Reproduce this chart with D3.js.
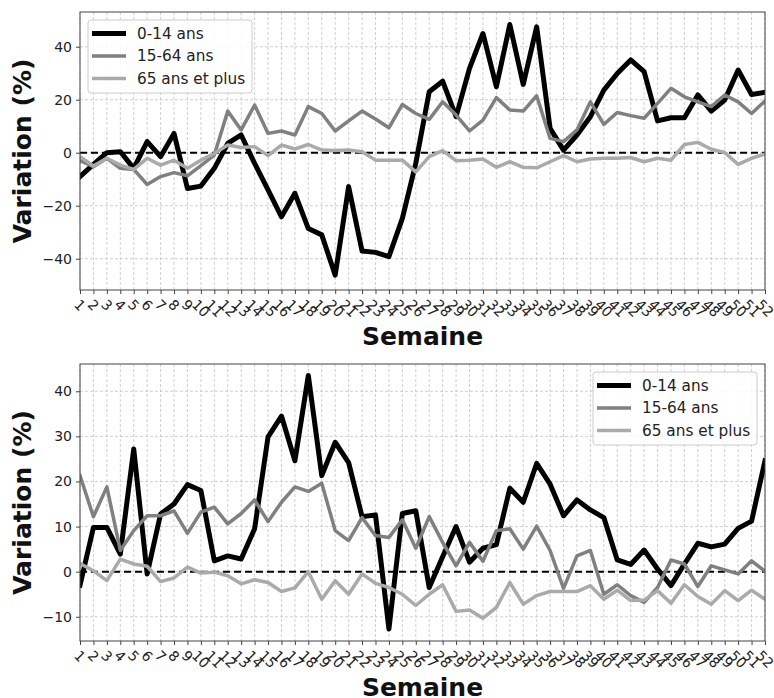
<!DOCTYPE html>
<html><head><meta charset="utf-8">
<script src="https://cdn.jsdelivr.net/npm/d3@7"></script>
<style>body{margin:0;background:#fff}svg{display:block}text{font-family:"DejaVu Sans",sans-serif}</style>
</head><body>
<svg id="c" width="774" height="698"></svg>
<script>
const weeks = d3.range(1, 53);
const seriesNames = ["0-14 ans", "15-64 ans", "65 ans et plus"];
const top014 = [-9,-4.4,0,0.4,-5.9,4.2,-1.5,7.3,-13.5,-12.6,-5.9,3.5,6.7,-4,-14,-24.2,-15.3,-28.6,-31,-46.2,-12.8,-37.1,-37.6,-39.2,-24.8,-4,23,27,13.6,31.8,45,24.9,48.4,25.8,47.5,9.2,1,6.7,13.6,23.6,29.9,35,30.6,12,13.2,13.2,21.8,15.7,19.9,31.2,22,22.8];
const top1564 = [-3,-5.3,-2.1,-5.9,-6.3,-12,-9,-7.5,-8.7,-4.9,-0.9,15.7,8.6,18,7.3,8.2,6.7,17.4,14.8,8.2,12,15.7,12.7,9.4,18.2,14.8,12.6,19.2,14.2,8.2,12.3,20.8,16.1,15.7,21.5,5.4,4.2,8.6,19.2,10.7,15.2,14,13,18.6,24.3,21.1,19.2,17.4,21.8,19.2,14.8,19.5];
const top65 = [-1.5,-5,-2.1,-4.7,-6.3,-2.1,-4.7,-2.8,-5.9,-2.8,-0.3,2.9,2,2.3,-1.1,2.9,1.4,3.1,1,0.8,1,0.4,-2.8,-2.8,-2.8,-7.2,-1.5,0.8,-3,-2.8,-2.4,-5.5,-3.4,-5.5,-5.7,-3.4,-1.1,-3.4,-2.4,-2.1,-2.1,-1.8,-3.4,-2.1,-2.8,3.1,3.9,1.3,0.1,-4.4,-2.1,-0.5];
const bot014 = [-3,9.8,9.8,3.9,27.2,-0.5,12.8,15,19.3,18,2.4,3.5,2.8,9.5,29.9,34.5,24.6,43.5,21.3,28.7,24.2,12.2,12.6,-12.7,12.9,13.5,-3.5,3.3,10,2.1,5.2,6,18.5,15.4,24,19.4,12.4,15.9,13.7,12,2.6,1.6,4.8,0.6,-3.1,1.7,6.3,5.5,6.1,9.6,11.2,24.6];
const bot1564 = [21.3,12.2,18.8,4.7,9.1,12.4,12.4,13.5,8.5,13.2,14.3,10.6,12.9,15.9,11.1,15.4,18.8,17.8,19.6,9.1,6.9,12,8,7.6,11.5,5.2,12.2,6.5,1.3,6.5,2.3,9.1,9.5,5,10.1,4.7,-3.7,3.5,4.7,-5,-2.9,-5.3,-6.8,-3.5,2.6,1.7,-3.3,1.3,0.4,-0.5,2.4,0.1];
const bot65 = [1.8,0.2,-2,2.8,1.7,1.2,-2.2,-1.4,1,-0.3,-0.1,-0.9,-2.7,-1.8,-2.4,-4.4,-3.6,0,-6.1,-2,-5,-0.5,-2.6,-3.5,-5,-7.5,-5,-2.9,-8.8,-8.5,-10.3,-7.9,-2.4,-7.2,-5.3,-4.4,-4.4,-4.4,-3.1,-6.1,-4.1,-6.4,-6.3,-4.2,-7,-2.9,-5.5,-7.2,-4.2,-6.4,-4.1,-6.1];
const topYTicks = [-40,-20,0,20,40];
const botYTicks = [-10,0,10,20,30,40];

const colors = ["#000000", "#808080", "#aaaaaa"];
const widths = [5, 3.5, 3.5];
const svg = d3.select("#c");

function panel(id, box, yDomain, yTicks, series, legendPos) {
  const x = d3.scaleLinear().domain([1, 52]).range([box.l, box.r]);
  const y = d3.scaleLinear().domain(yDomain).range([box.b, box.t]);
  const g = svg.append("g");
  g.append("clipPath").attr("id", "clip" + id).append("rect")
    .attr("x", box.l).attr("y", box.t).attr("width", box.r - box.l).attr("height", box.b - box.t);
  // grid
  g.append("g").selectAll("line").data(weeks).join("line")
    .attr("x1", d => x(d)).attr("x2", d => x(d)).attr("y1", box.t).attr("y2", box.b)
    .attr("stroke", "#c4c4c4").attr("stroke-width", 0.8).attr("stroke-dasharray", "3,2");
  g.append("g").selectAll("line").data(yTicks).join("line")
    .attr("x1", box.l).attr("x2", box.r).attr("y1", d => y(d)).attr("y2", d => y(d))
    .attr("stroke", "#c4c4c4").attr("stroke-width", 0.8).attr("stroke-dasharray", "3,2");
  // zero line
  g.append("line").attr("x1", box.l).attr("x2", box.r).attr("y1", y(0)).attr("y2", y(0))
    .attr("stroke", "#000").attr("stroke-width", 2).attr("stroke-dasharray", "7,4");
  // lines
  const line = d3.line().x((d, i) => x(weeks[i])).y(d => y(d));
  const lg = g.append("g").attr("clip-path", `url(#clip${id})`);
  series.forEach((s, k) => {
    lg.append("path").datum(s).attr("d", line).attr("fill", "none")
      .attr("stroke", colors[k]).attr("stroke-width", widths[k])
      .attr("stroke-linejoin", "round").attr("stroke-linecap", "square");
  });
  // frame
  g.append("rect").attr("x", box.l).attr("y", box.t).attr("width", box.r - box.l).attr("height", box.b - box.t)
    .attr("fill", "none").attr("stroke", "#444").attr("stroke-width", 1);
  // y axis
  const ya = d3.axisLeft(y).tickValues(yTicks).tickSize(4).tickPadding(4)
    .tickFormat(d => (d < 0 ? "\u2212" + Math.abs(d) : d));
  const yg = g.append("g").attr("transform", `translate(${box.l},0)`).call(ya);
  yg.select(".domain").remove();
  yg.selectAll("line").attr("stroke", "#444");
  yg.selectAll("text").attr("font-size", 14).attr("fill", "#222").style("font-family", "DejaVu Sans");
  // x axis
  const xa = d3.axisBottom(x).tickValues(weeks).tickSize(4).tickFormat("");
  const xg = g.append("g").attr("transform", `translate(0,${box.b})`).call(xa);
  xg.select(".domain").remove();
  xg.selectAll("line").attr("stroke", "#444");
  const fs = 14;
  g.append("g").selectAll("text").data(weeks).join("text")
    .each(function(d) {
      const w = String(d).length * 0.636 * fs;
      const h = 1.0 * fs;
      const bb = (w + h) * Math.SQRT1_2;
      const cx = x(d), cy = box.b + 7 + bb / 2;
      d3.select(this).attr("x", cx).attr("y", cy)
        .attr("transform", `rotate(45,${cx},${cy})`);
    })
    .attr("text-anchor", "middle").attr("dominant-baseline", "central")
    .attr("font-size", fs).attr("fill", "#222").text(d => d);
  // axis titles
  g.append("text").attr("x", (box.l + box.r) / 2).attr("y", box.b + 55)
    .attr("text-anchor", "middle").attr("font-size", 25).attr("font-weight", "bold").attr("fill", "#111")
    .text("Semaine");
  const ycen = (box.t + box.b) / 2;
  g.append("text").attr("transform", `translate(31,${ycen}) rotate(-90)`)
    .attr("text-anchor", "middle").attr("font-size", 25).attr("font-weight", "bold").attr("fill", "#111")
    .text("Variation (%)");
  // legend
  const L = legendPos;
  const leg = g.append("g");
  leg.append("rect").attr("x", L.x).attr("y", L.y).attr("width", 164).attr("height", 73)
    .attr("rx", 3).attr("fill", "#fff").attr("fill-opacity", 0.85).attr("stroke", "#cccccc").attr("stroke-width", 1);
  seriesNames.forEach((n, k) => {
    const cy = L.y + 13.5 + k * 22.5;
    leg.append("line").attr("x1", L.x + 4).attr("x2", L.x + 38).attr("y1", cy).attr("y2", cy)
      .attr("stroke", colors[k]).attr("stroke-width", widths[k]);
    leg.append("text").attr("x", L.x + 49).attr("y", cy).attr("dominant-baseline", "central")
      .attr("font-size", 15.3).attr("fill", "#222").text(n);
  });
}

panel("a", {l: 80, r: 765, t: 12, b: 290}, [-51.8, 53.1], topYTicks, [top014, top1564, top65], {x: 88, y: 20});
panel("b", {l: 80, r: 765, t: 364, b: 641}, [-15.37, 46.05], botYTicks, [bot014, bot1564, bot65], {x: 593, y: 372});
</script>
</body></html>
